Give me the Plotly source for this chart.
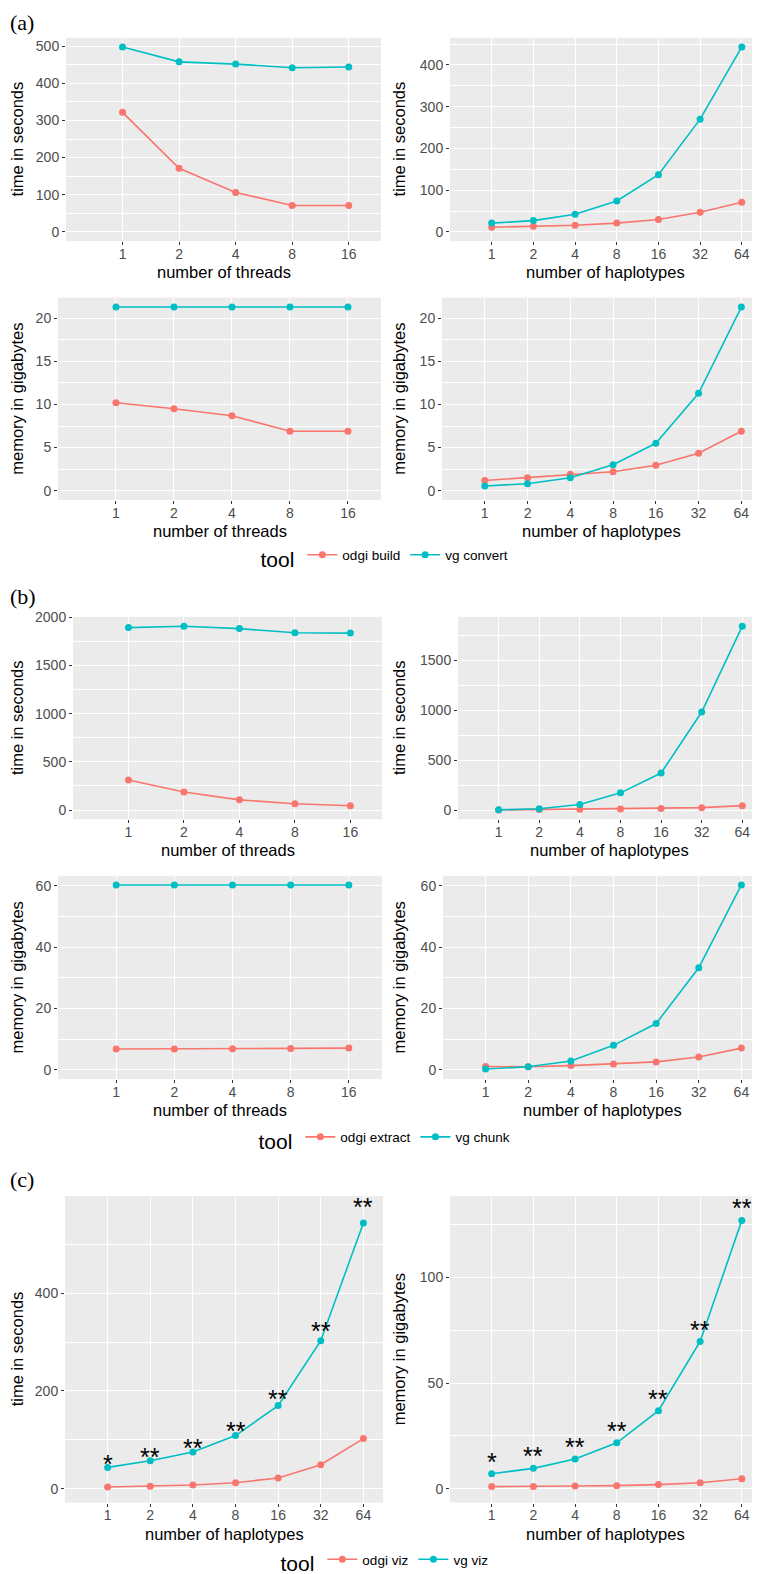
import math
import plotly.graph_objects as go

W, H = 760, 1574

# x categories
threads = [1, 2, 4, 8, 16]
haplotypes = [1, 2, 4, 8, 16, 32, 64]

# (a) odgi build vs vg convert
a_thr_time_odgi = [322, 171, 106, 71, 71]
a_thr_time_vg = [498, 458, 452, 442, 444]
a_hap_time_odgi = [11, 13.5, 16, 21, 29.5, 47, 71]
a_hap_time_vg = [21, 27, 42, 74, 137, 270, 443]
a_thr_mem_odgi = [10.2, 9.5, 8.7, 6.9, 6.9]
a_thr_mem_vg = [21.3, 21.3, 21.3, 21.3, 21.3]
a_hap_mem_odgi = [1.18, 1.5, 1.9, 2.2, 2.95, 4.35, 6.9]
a_hap_mem_vg = [0.55, 0.8, 1.5, 3.0, 5.5, 11.3, 21.3]

# (b) odgi extract vs vg chunk
b_thr_time_odgi = [311, 188, 106, 65, 44]
b_thr_time_vg = [1894, 1908, 1884, 1840, 1837]
b_hap_time_odgi = [1, 5, 8, 10, 15, 24, 44]
b_hap_time_vg = [2, 13, 56, 172, 370, 981, 1840]
b_thr_mem_odgi = [6.8, 6.8, 6.9, 7.0, 7.1]
b_thr_mem_vg = [60.3, 60.3, 60.3, 60.3, 60.3]
b_hap_mem_odgi = [1.1, 1.0, 1.4, 1.9, 2.6, 4.2, 7.1]
b_hap_mem_vg = [0.3, 1.0, 2.9, 8.0, 15.1, 33.3, 60.3]

# (c) odgi viz vs vg viz
c_time_odgi = [3.4, 4.7, 7.5, 12.2, 21.7, 49, 102.5]
c_time_vg = [43.5, 57, 75, 108.6, 170, 303, 544]
c_mem_odgi = [0.95, 0.95, 1.26, 1.4, 1.9, 2.8, 4.7]
c_mem_vg = [7.06, 9.6, 14.0, 21.7, 36.9, 69.7, 127.1]
c_signif = ['*', '**', '**', '**', '**', '**', '**']

RED = '#F8766D'
TEAL = '#00BFC4'
FONT = 'Liberation Sans, Arial, sans-serif'

# (left, right, top, bottom) in px, x values, y range, y dtick, titles, series, legend
panels = [
    ((58, 373, 30, 235), threads, (-25, 523), 100, 'time in seconds', 'number of threads',
     (a_thr_time_odgi, a_thr_time_vg), ('odgi build', 'vg convert'), 'legend', True),
    ((442, 753, 30, 235), haplotypes, (-22, 465), 100, 'time in seconds', 'number of haplotypes',
     (a_hap_time_odgi, a_hap_time_vg), ('odgi build', 'vg convert'), 'legend', False),
    ((50, 373, 292, 496), threads, (-1.07, 22.4), 5, 'memory in gigabytes', 'number of threads',
     (a_thr_mem_odgi, a_thr_mem_vg), ('odgi build', 'vg convert'), 'legend', False),
    ((434, 753, 292, 496), haplotypes, (-1.07, 22.4), 5, 'memory in gigabytes', 'number of haplotypes',
     (a_hap_mem_odgi, a_hap_mem_vg), ('odgi build', 'vg convert'), 'legend', False),
    ((65, 374, 614, 818), threads, (-95.5, 2005), 500, 'time in seconds', 'number of threads',
     (b_thr_time_odgi, b_thr_time_vg), ('odgi extract', 'vg chunk'), 'legend2', True),
    ((450, 753, 614, 818), haplotypes, (-92, 1932), 500, 'time in seconds', 'number of haplotypes',
     (b_hap_time_odgi, b_hap_time_vg), ('odgi extract', 'vg chunk'), 'legend2', False),
    ((50, 374, 875, 1080), threads, (-3.0, 63.3), 20, 'memory in gigabytes', 'number of threads',
     (b_thr_mem_odgi, b_thr_mem_vg), ('odgi extract', 'vg chunk'), 'legend2', False),
    ((435, 753, 875, 1080), haplotypes, (-3.0, 63.3), 20, 'memory in gigabytes', 'number of haplotypes',
     (b_hap_mem_odgi, b_hap_mem_vg), ('odgi extract', 'vg chunk'), 'legend2', False),
    ((57, 375, 1198, 1507), haplotypes, (-28.5, 599), 200, 'time in seconds', 'number of haplotypes',
     (c_time_odgi, c_time_vg), ('odgi viz', 'vg viz'), 'legend3', True),
    ((442, 753, 1198, 1507), haplotypes, (-6.6, 138.6), 50, 'memory in gigabytes', 'number of haplotypes',
     (c_mem_odgi, c_mem_vg), ('odgi viz', 'vg viz'), 'legend3', False),
]

# y titles sit in a shared column per side
YTITLE_X = {True: 9, False: 391}

fig = go.Figure()
layout = {}
anns = []
title_font = dict(size=16.5, color='black', family=FONT)

for i, (box, xs, yr, dt, ytitle, xtitle, series, names, leg, showleg) in enumerate(panels):
    n = '' if i == 0 else str(i + 1)
    l, r, t, b = box
    xhi = len(xs) - 1 + (0.57 if len(xs) == 5 else 0.46)
    layout['xaxis' + n] = dict(
        domain=[l / W, r / W], anchor='y' + n, type='log',
        range=[-1.0 * math.log10(2), xhi * math.log10(2)],
        tickvals=xs, ticktext=[str(v) for v in xs],
        showgrid=True, gridcolor='white', gridwidth=1.3, zeroline=False,
        ticks='outside', ticklen=3, tickcolor='#333333', tickwidth=1,
        tickfont=dict(size=14, color='#4D4D4D', family=FONT), ticklabelstandoff=-3,
        automargin=False, showline=False, fixedrange=True,
    )
    layout['yaxis' + n] = dict(
        domain=[1 - b / H, 1 - t / H], anchor='x' + n, range=list(yr),
        dtick=dt, tick0=0,
        showgrid=True, gridcolor='white', gridwidth=1.3, zeroline=False,
        minor=dict(dtick=dt / 2, tick0=0, showgrid=True, gridcolor='white', gridwidth=0.6, ticks=''),
        ticks='outside', ticklen=3, tickcolor='#333333', tickwidth=1,
        tickfont=dict(size=14, color='#4D4D4D', family=FONT),
        automargin=False, showline=False, fixedrange=True,
    )
    # axis titles as annotations
    anns.append(dict(x=(l + r) / 2 / W, y=1 - b / H, xref='paper', yref='paper', text=xtitle,
                     showarrow=False, xanchor='center', yanchor='middle', yshift=-31,
                     font=title_font))
    anns.append(dict(x=YTITLE_X[l < 300] / W, y=1 - (t + b) / 2 / H, xref='paper', yref='paper',
                     text=ytitle, showarrow=False, xanchor='center', yanchor='middle',
                     textangle=-90, font=title_font))
    for vals, name, col in zip(series, names, (RED, TEAL)):
        fig.add_trace(go.Scatter(
            x=xs, y=vals, mode='lines+markers', name=name,
            line=dict(color=col, width=1.6), marker=dict(color=col, size=7),
            xaxis='x' + n, yaxis='y' + n, legend=leg, legendgroup=leg + name,
            showlegend=showleg,
        ))

# significance stars over vg viz
for xv, yv, s in zip(haplotypes, c_time_vg, c_signif):
    anns.append(dict(x=math.log10(xv), y=yv * 1.05 + 15, xref='x9', yref='y9', text=s,
                     showarrow=False, font=dict(size=25, color='black', family=FONT),
                     yanchor='middle', yshift=-5))
for xv, yv, s in zip(haplotypes, c_mem_vg, c_signif):
    anns.append(dict(x=math.log10(xv), y=yv + 8, xref='x10', yref='y10', text=s,
                     showarrow=False, font=dict(size=25, color='black', family=FONT),
                     yanchor='middle', yshift=-5))

for lab, yp in (('(a)', 0), ('(b)', 579), ('(c)', 1167)):
    anns.append(dict(x=0, y=1 - yp / H, xref='paper', yref='paper', text=lab, showarrow=False,
                     xanchor='left', yanchor='top',
                     font=dict(size=22, color='black', family='Liberation Serif, Times New Roman, serif')))

legend_style = dict(
    orientation='h', xanchor='center', yanchor='middle', x=378 / W,
    title=dict(text='tool', side='left', font=dict(size=21, color='black', family=FONT)),
    font=dict(size=13.5, color='black', family=FONT), itemwidth=30, bgcolor='rgba(0,0,0,0)',
)
layout['legend'] = dict(legend_style, y=1 - 555 / H)
layout['legend2'] = dict(legend_style, y=1 - 1142 / H)
layout['legend3'] = dict(legend_style, y=1 - 1568 / H)

fig.update_layout(
    width=W, height=H, margin=dict(l=0, r=0, t=0, b=0),
    paper_bgcolor='white', plot_bgcolor='#EBEBEB',
    font=dict(family=FONT), annotations=anns, **layout,
)

fig.write_html("out.html")
